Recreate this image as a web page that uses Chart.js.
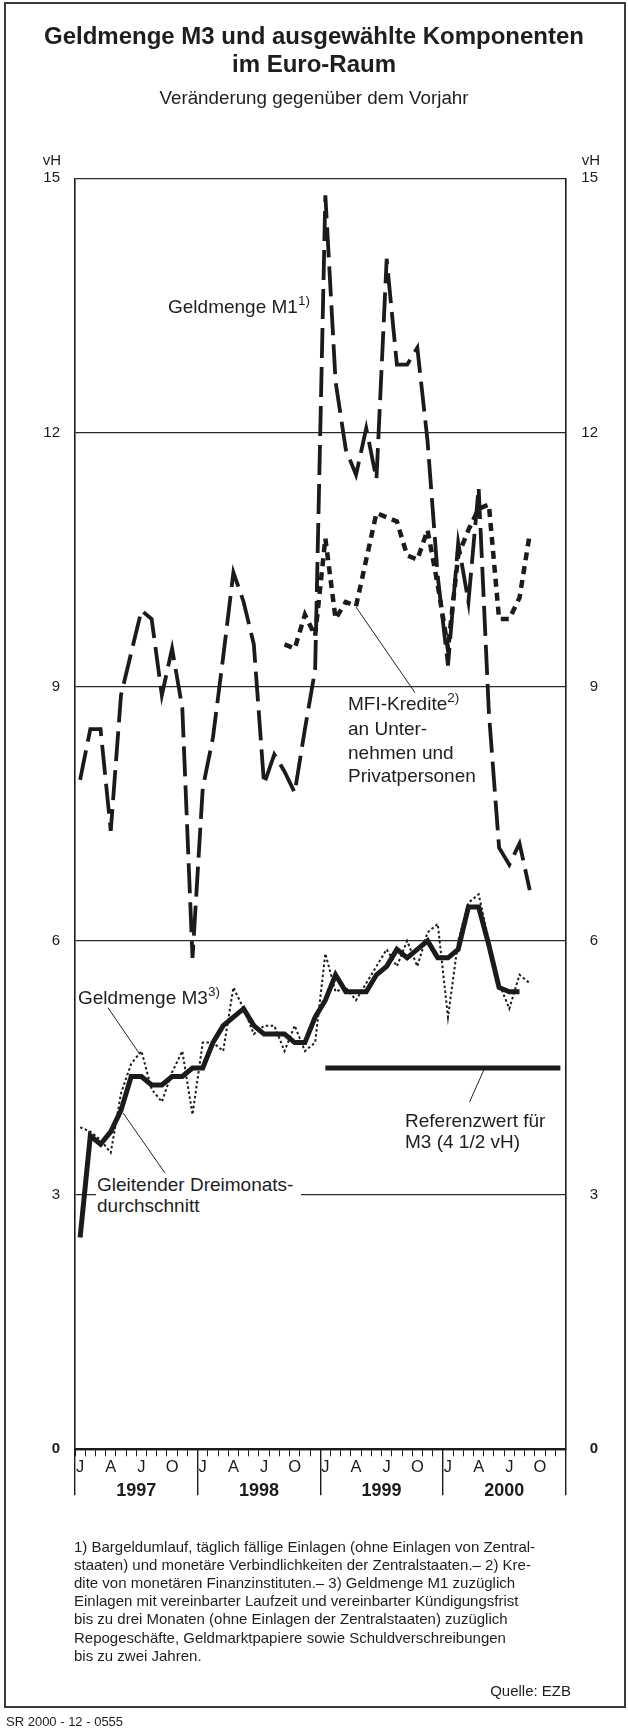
<!DOCTYPE html>
<html lang="de">
<head>
<meta charset="utf-8">
<title>Geldmenge M3 und ausgewählte Komponenten im Euro-Raum</title>
<script src="https://cdn.jsdelivr.net/npm/chart.js@4.4.1/dist/chart.umd.min.js"></script>
<style>
  html, body { margin: 0; padding: 0; background: #fff; }
  body { width: 628px; height: 1728px; position: relative; overflow: hidden;
         font-family: "Liberation Sans", Arial, Helvetica, sans-serif; color: #1e1e1e; }
  #chart { position: absolute; left: 0; top: 0; }
  .frame { position: absolute; left: 4px; top: 2px; width: 618px; height: 1702px; border: 2px solid #3a3a3a; }
  .txt { position: absolute; white-space: nowrap; }
  .title { left: 0; width: 628px; top: 22px; text-align: center; font-weight: bold; font-size: 24px; line-height: 28px; }
  .subtitle { left: 0; width: 628px; top: 87px; text-align: center; font-size: 18.8px; line-height: 22px; }
  .unit { top: 151px; font-size: 15px; line-height: 18px; }
  .note { font-size: 19px; line-height: 22px; }
  .sup { font-size: 13.5px; position: relative; top: -8px; }
  .foot { left: 74px; top: 1537.6px; font-size: 15px; line-height: 18.2px; }
</style>
</head>
<body>
<canvas id="chart" width="628" height="1728"></canvas>
<div class="frame"></div>

<div class="txt title">Geldmenge M3 und ausgewählte Komponenten<br>im Euro-Raum</div>
<div class="txt subtitle">Veränderung gegenüber dem Vorjahr</div>
<div class="txt unit" style="right: 567px;">vH</div>
<div class="txt unit" style="right: 28px;">vH</div>

<div class="txt note" style="left: 168px; top: 296px;">Geldmenge M1<span class="sup">1)</span></div>
<div class="txt note" style="left: 348px; top: 692px; line-height: 23.3px;">MFI-Kredite<span class="sup">2)</span><br>an Unter-<br>nehmen und<br>Privatpersonen</div>
<div class="txt note" style="left: 78px; top: 987px;">Geldmenge M3<span class="sup">3)</span></div>
<div class="txt note" style="left: 96px; top: 1174px; width: 204px; padding-left: 1px; line-height: 21px; background: #fff;">Gleitender Dreimonats-<br>durchschnitt</div>
<div class="txt note" style="left: 405px; top: 1110px; line-height: 21px;">Referenzwert für<br>M3 (4 1/2 vH)</div>

<div class="txt foot">1) Bargeldumlauf, täglich fällige Einlagen (ohne Einlagen von Zentral-<br>staaten) und monetäre Verbindlichkeiten der Zentralstaaten.– 2) Kre-<br>dite von monetären Finanzinstituten.– 3) Geldmenge M1 zuzüglich<br>Einlagen mit vereinbarter Laufzeit und vereinbarter Kündigungsfrist<br>bis zu drei Monaten (ohne Einlagen der Zentralstaaten) zuzüglich<br>Repogeschäfte, Geldmarktpapiere sowie Schuldverschreibungen<br>bis zu zwei Jahren.</div>
<div class="txt" style="right: 57px; top: 1682px; font-size: 15px; line-height: 18px;">Quelle: EZB</div>
<div class="txt" style="left: 6px; top: 1714px; font-size: 13px; line-height: 16px;">SR 2000 - 12 - 0555</div>

<script>
const FONT = '"Liberation Sans", Arial, Helvetica, sans-serif';
const INK = '#1b1b1b';

// month index 0 = January 1997
const yearLabels = ['1997', '1998', '1999', '2000'];
const quarterLetters = ['J', 'A', 'J', 'O'];
const yTickValues = [0, 3, 6, 9, 12, 15];

// Geldmenge M1, Jan 1997 - Sep 2000
const m1Start = 0;
const m1Values = [
  7.9, 8.5, 8.5, 7.3, 8.9, 9.4, 9.9, 9.8, 8.9, 9.45, 8.75, 5.8,
  7.8, 8.4, 9.35, 10.35, 10.0, 9.5, 7.85, 8.2, 8.0, 7.75, 8.5, 9.2,
  14.8, 12.6, 11.8, 11.5, 12.05, 11.45, 14.05, 12.8, 12.8, 13.0, 11.9, 10.3,
  9.25, 10.7, 10.0, 11.35, 8.7, 7.1, 6.9, 7.15, 6.6
];

// MFI-Kredite, Sep 1998 - Sep 2000
const mfiStart = 20;
const mfiValues = [
  9.5, 9.45, 9.85, 9.6,
  10.75, 9.8, 10.0, 9.95, 10.5, 11.05, 11.0, 10.95, 10.55, 10.5, 10.85, 10.2,
  9.45, 10.55, 10.85, 11.1, 11.15, 9.8, 9.8, 10.05, 10.8
];

// Geldmenge M3, Jan 1997 - Sep 2000
const m3Start = 0;
const m3Values = [
  3.8, 3.75, 3.65, 3.5, 4.2, 4.55, 4.7, 4.25, 4.1, 4.45, 4.7, 3.95,
  4.8, 4.8, 4.7, 5.45, 5.2, 4.9, 5.0, 5.0, 4.7, 5.0, 4.7, 4.8,
  5.85, 5.4, 5.45, 5.3, 5.5, 5.7, 5.9, 5.7, 6.0, 5.7, 6.1, 6.2,
  5.1, 6.0, 6.45, 6.55, 6.0, 5.5, 5.2, 5.6, 5.5
];

// Gleitender Dreimonatsdurchschnitt, Jan 1997 - Aug 2000
const m3AvgValues = [
  2.5, 3.7, 3.6, 3.75, 4.0, 4.4, 4.4, 4.3, 4.3, 4.4, 4.4, 4.5,
  4.5, 4.8, 5.0, 5.1, 5.2, 5.0, 4.9, 4.9, 4.9, 4.8, 4.8, 5.1,
  5.3, 5.6, 5.4, 5.4, 5.4, 5.6, 5.7, 5.9, 5.8, 5.9, 6.0, 5.8,
  5.8, 5.9, 6.4, 6.4, 5.95, 5.45, 5.4, 5.4
];

// Referenzwert fuer M3, Jan 1999 - Dec 2000
const referenceMonths = [24, 47];
const referenceValue = 4.5;

// leader lines from the labels to the curves, in (month, vH)
const leaderLines = [
  [[3.23, 5.21], [6.36, 4.66]],
  [[4.70, 3.97], [8.81, 3.26]],
  [[27.5, 9.94], [33.27, 8.93]],
  [[40.02, 4.48], [38.61, 4.10]]
];

const toPoints = (start, values) => values.map((v, i) => ({ x: start + i + 0.5, y: v }));

// x axis ticks every half month: whole values get a tick mark, labels sit on month centres
const halfMonthTicks = Array.from({ length: 97 }, (_, i) => i / 2);
const yearBoundaries = [0, 12, 24, 36, 48];

const isQuarterCentre = v => !Number.isInteger(v) && (v - 0.5) % 3 === 0;
const isYearCentre = v => v % 12 === 6;

function xLabel(v) {
  if (isYearCentre(v)) return ['', yearLabels[(v - 6) / 12]];
  if (isQuarterCentre(v)) return quarterLetters[((v - 0.5) / 3) % 4];
  return '';
}

const datasets = [
  { data: toPoints(m3Start, m3AvgValues), borderColor: INK, borderWidth: 5 },
  { data: referenceMonths.map(m => ({ x: m + 0.5, y: referenceValue })), borderColor: INK, borderWidth: 5 },
  { data: toPoints(m3Start, m3Values), borderColor: INK, borderWidth: 2, borderDash: [2.5, 2.5] },
  { data: toPoints(mfiStart, mfiValues), borderColor: INK, borderWidth: 4.5, borderDash: [8, 6] },
  { data: toPoints(m1Start, m1Values), borderColor: INK, borderWidth: 3.8, borderDash: [30, 9] }
];
leaderLines.forEach(l => datasets.push({
  data: l.map(p => ({ x: p[0], y: p[1] })), borderColor: '#222', borderWidth: 1
}));

const hidden = 'rgba(0,0,0,0)';

new Chart(document.getElementById('chart'), {
  type: 'line',
  data: { datasets: datasets },
  options: {
    responsive: false,
    animation: false,
    devicePixelRatio: 1,
    layout: { padding: { top: 178.3, bottom: 218.7, left: 0, right: 30 } },
    plugins: { legend: { display: false }, tooltip: { enabled: false } },
    elements: {
      point: { radius: 0 },
      line: { tension: 0, borderCapStyle: 'butt', borderJoinStyle: 'miter', fill: false }
    },
    scales: {
      // long separators between the years, no labels
      xy: {
        type: 'linear', min: 0, max: 48, position: 'bottom',
        afterBuildTicks: s => { s.ticks = yearBoundaries.map(v => ({ value: v })); },
        ticks: { display: false },
        grid: { drawOnChartArea: false, drawTicks: true, tickLength: 46, color: INK, lineWidth: 1.4 },
        border: { display: false },
        afterFit: s => { s.height = 0; }
      },
      // month ticks, quarter letters and year labels
      x: {
        type: 'linear', min: 0, max: 48, position: 'bottom',
        afterBuildTicks: s => { s.ticks = halfMonthTicks.map(v => ({ value: v })); },
        ticks: {
          autoSkip: false, maxRotation: 0, padding: 0.8, color: INK,
          font: ctx => (ctx.tick && isYearCentre(ctx.tick.value)
            ? { family: FONT, size: 18, weight: 'bold', lineHeight: 1.274 }
            : { family: FONT, size: 16.5 }),
          callback: v => xLabel(v)
        },
        grid: {
          drawOnChartArea: false, drawTicks: true, tickLength: 7,
          color: hidden, tickWidth: 1,
          tickColor: ctx => (ctx.tick && Number.isInteger(ctx.tick.value) ? INK : hidden)
        },
        border: { display: true, color: INK, width: 2.2 },
        afterFit: s => { s.height = 60; }
      },
      y: {
        type: 'linear', min: 0, max: 15, position: 'left',
        afterBuildTicks: s => { s.ticks = yTickValues.map(v => ({ value: v })); },
        ticks: {
          padding: 15, color: INK, crossAlign: 'near',
          font: ctx => ({ family: FONT, size: 15, weight: ctx.tick && ctx.tick.value === 0 ? 'bold' : 'normal' })
        },
        grid: { drawOnChartArea: true, drawTicks: false, color: '#2a2a2a', lineWidth: 1.3 },
        border: { display: true, color: INK, width: 1.6 },
        afterFit: s => { s.width = 75; }
      },
      y2: {
        type: 'linear', min: 0, max: 15, position: 'right',
        afterBuildTicks: s => { s.ticks = yTickValues.map(v => ({ value: v })); },
        ticks: {
          padding: 15, color: INK, crossAlign: 'far',
          font: ctx => ({ family: FONT, size: 15, weight: ctx.tick && ctx.tick.value === 0 ? 'bold' : 'normal' })
        },
        grid: { display: false, drawOnChartArea: false, drawTicks: false },
        border: { display: true, color: INK, width: 1.6 },
        afterFit: s => { s.width = 32.5; }
      }
    }
  }
});
</script>
</body>
</html>
